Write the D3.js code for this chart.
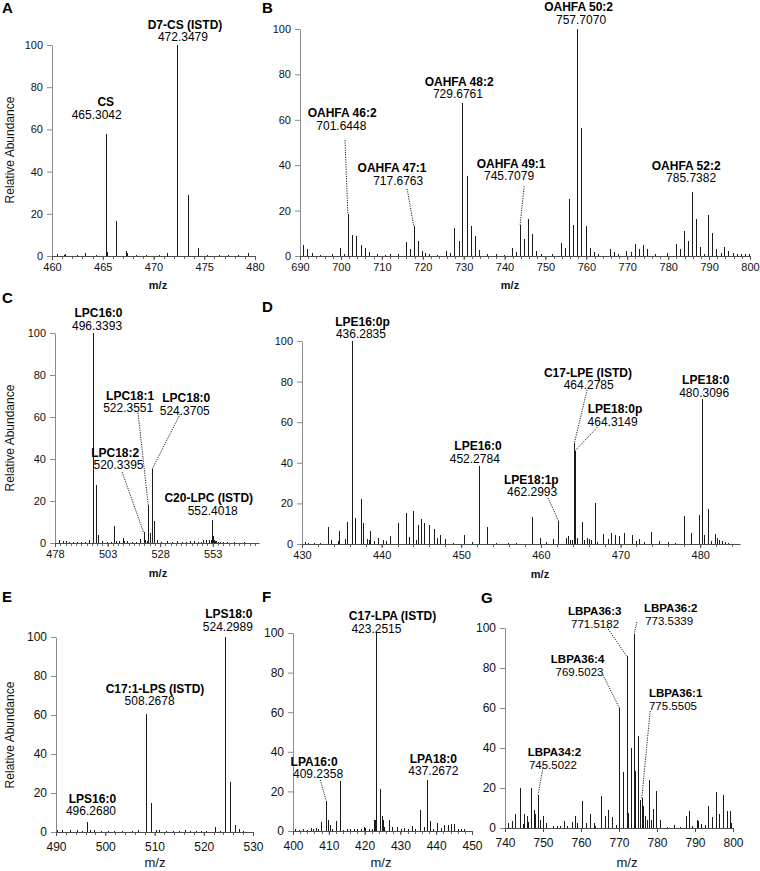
<!DOCTYPE html>
<html><head><meta charset="utf-8">
<script src="https://cdn.jsdelivr.net/npm/d3@7"></script>
<style>
body{margin:0;background:#fff}
svg{display:block;font-family:Arial,"Liberation Sans",sans-serif}
</style>
</head><body>
<svg id="chart" width="760" height="871"></svg>
<script>
// ---------------- DATA ----------------
const yTicks = [0, 20, 40, 60, 80, 100];
const ticksA = [460, 465, 470, 475, 480];
const ticksB = [690, 700, 710, 720, 730, 740, 750, 760, 770, 780, 790, 800];
const ticksC = [478, 503, 528, 553];
const ticksD = [430, 440, 450, 460, 470, 480];
const ticksE = [490, 500, 510, 520, 530];
const ticksF = [400, 410, 420, 430, 440, 450];
const ticksG = [740, 750, 760, 770, 780, 790, 800];

// [m/z, relative abundance]
const peaksA = [[460.5,0.8],[461.2,0.6],[461.3,1],[462.5,0.4],[463.3,1.5],[464.3,0.4],[465.3,58],[465.45,2],[466.3,16.5],[467.3,2.5],[467.4,1.2],[468.3,0.5],[469.3,0.4],[470.5,0.4],[471.3,1.2],[472.35,100],[473.35,29],[474.35,4],[475.3,0.7],[476.5,0.5],[477.3,0.6],[478.3,0.4],[479.3,1.2]];
const peaksB = [[690.8,5],[691.8,3],[692.9,1.5],[694.8,0.5],[697.7,1],[699.8,3.4],[700.8,1],[701.7,18.4],[702.8,9.3],[703.7,9],[704.8,4.7],[705.8,3.4],[706.9,1.6],[708.7,0.7],[710.8,0.5],[712,0.7],[714,1],[715.8,6],[716.9,3],[717.8,13.2],[718.8,6.8],[719.7,2.4],[720.6,1.2],[721.5,1],[723.5,0.5],[725.7,2.2],[726.7,1.2],[727.7,12.2],[728.8,6.6],[729.7,67.4],[730.7,35.4],[731.8,13.4],[732.8,8.8],[733.8,2.6],[735.8,1],[737.8,0.7],[739.8,0.5],[741.8,3.4],[742.8,1.6],[743.8,13.7],[744.8,7.5],[745.8,16.3],[746.8,9.6],[747.8,2.4],[748.8,0.9],[751.6,0.7],[753.7,5.9],[754.8,3.4],[755.8,25.1],[756.8,13.7],[757.7,100],[758.8,56.3],[759.8,13.4],[760.8,3.4],[761.8,1.6],[762.8,0.9],[765.8,3.1],[766.8,1.6],[767.8,0.9],[769.8,2.4],[770.8,1.6],[771.8,5.1],[772.8,2.9],[773.8,4.9],[774.8,2.9],[776.8,0.9],[779.6,1.2],[781.9,5.1],[782.8,2.9],[783.8,11],[784.8,6.6],[785.7,28.4],[786.8,16.2],[787.8,3.8],[788.8,0.9],[789.8,18.1],[790.7,10],[791.8,2.9],[792.8,1.2],[793.7,4.1],[794.7,2.4],[795.8,1.2],[796.7,0.7],[797.7,0.7],[798.7,0.7],[799.7,0.7]];
const peaksC = [[480.1,1.6],[481.7,1],[483.2,0.8],[484.5,0.5],[486.7,0.5],[488.5,0.4],[490.5,0.4],[492.5,0.5],[494.3,1.3],[496.3,100],[497.3,27.5],[498.3,4],[500.2,1],[502.5,0.5],[504.5,0.5],[506.1,8],[507,0.8],[508.2,0.8],[510.2,2.5],[511,0.8],[512.1,1],[514.5,0.5],[516.5,0.5],[518.2,2],[520.1,5.2],[521,1.6],[521.6,1],[522.3,18.3],[523.2,5],[524.3,35.4],[525.3,10.5],[526.3,1.6],[528.5,0.5],[531.2,1],[533.5,0.5],[535.9,0.8],[538.5,0.4],[540.5,0.4],[542.3,0.8],[543.9,0.8],[546,0.5],[547.5,0.6],[548.6,1.6],[549.9,1.3],[551,1.6],[552.1,1.3],[552.6,11],[553.1,3.2],[553.7,1.6],[554.3,1],[554.7,0.8],[555.5,0.6],[556.6,0.5],[558,0.4],[559.7,0.3],[563,0.3],[567.7,0.3]];
const peaksD = [[430.4,1.1],[430.8,0.7],[431.5,0.5],[432.2,0.5],[433.3,8.2],[433.6,2],[434.5,1.6],[434.6,6.4],[435.4,2.3],[435.6,10.8],[436.3,100],[436.6,12.6],[437.4,22],[437.6,10.2],[438.2,2.3],[438.4,2],[438.6,6.2],[439.1,1.6],[439.6,2.8],[440.2,2],[440.5,1.3],[441.1,3.9],[442.1,10.5],[443.1,15.4],[443.4,3.3],[444.0,16.4],[444.3,2],[444.6,9.5],[445.0,12.5],[445.3,10.5],[446.0,9.2],[446.6,7.2],[447.0,3],[447.3,4.4],[448.0,2.3],[449,0.5],[450.3,4.4],[451.4,1],[452.2,38.6],[453.2,8.2],[454.3,0.7],[455.9,0.7],[456.9,0.7],[458.9,13.1],[459.9,3.1],[460.7,1.1],[461.5,2.3],[462.2,11.5],[463.2,2.8],[463.4,3.9],[463.7,2],[463.9,2],[464.2,49.7],[464.3,46],[464.5,2.8],[465.1,11],[465.4,2],[465.8,2.8],[466.1,2.3],[466.3,2],[466.8,20.2],[467.1,1.1],[467.8,4.9],[468.4,2.3],[468.8,5.6],[469.3,4.4],[469.8,3.9],[470.4,5.2],[471.4,4.4],[471.9,1.6],[472.3,2.3],[472.9,1.1],[473.8,5.9],[474.8,1.5],[475.9,1],[476.9,0.7],[478.0,13.8],[478.8,5.2],[478.9,3.1],[479.9,14.3],[480.2,71.4],[480.5,4.4],[481.0,17.2],[481.4,1.5],[481.8,4.9],[482.1,2.8],[482.4,2],[482.8,1.5],[483.1,1.1],[483.5,0.7]];
const peaksE = [[490.2,1.2],[491.2,0.9],[492.9,1.2],[494.3,0.9],[495.2,0.5],[496.3,5.1],[497,1.2],[497.7,0.9],[499.1,0.5],[500.5,0.4],[501.8,0.5],[503.5,0.4],[505.5,0.5],[506.6,0.9],[508.3,60.5],[509.3,15],[510.3,1.2],[511,0.9],[512.4,0.5],[513.7,0.5],[515,0.4],[516.1,0.9],[517.3,0.4],[518.5,0.5],[519.5,0.4],[520.5,0.5],[522.2,2.6],[523.3,0.5],[524.3,100],[525.3,25.7],[526.3,3.4],[527.2,1.7],[528,0.5]];
const peaksF = [[400.6,1.2],[401.8,0.7],[402.9,1],[404,0.5],[405,1.7],[405.7,1.2],[406.4,1.5],[407.1,1.2],[407.9,4.7],[409.3,15.2],[409.9,5.7],[410.2,2.9],[410.8,1.2],[412.1,5.1],[413,25.5],[413.9,0.7],[415,1.2],[416,1.2],[417.1,1.2],[418,1],[419,1.2],[419.7,2],[420.2,1.7],[421.1,1],[422,1.2],[422.7,5.4],[423,5.7],[423.3,100],[424.2,21],[424.8,7.4],[425.1,5.4],[425.5,2],[426.7,5.4],[427.7,2],[429.1,2],[430.2,0.8],[431.1,1.7],[432.2,0.8],[433.3,2.4],[434.2,1.2],[435.4,10.5],[436.5,2],[437.3,26],[438.4,5.1],[439.2,1.2],[440.3,4.1],[441.4,1.7],[442.3,2.9],[443.3,2.9],[444.2,3.4],[445.1,3.7],[446.1,1.2],[447,1],[447.9,1]];
const peaksG = [[740.9,2.5],[741.8,3.3],[742.6,7.2],[743.9,20],[744.8,2.2],[745,7.2],[745.7,6.2],[746,2.8],[746.8,20],[747.6,9.2],[748,7.2],[748.7,16.7],[749.2,4.2],[749.9,6.2],[750.7,2.5],[752.7,1.2],[753.6,1.2],[754.5,1.2],[755.5,3.7],[756.4,1.2],[757.5,2.8],[758.4,5.8],[758.9,2.5],[760.3,13.3],[761.3,2.5],[762.4,7.2],[763.4,2.5],[763.8,0.8],[765.3,16.2],[766.3,6.2],[767.2,9.2],[768.1,5.3],[769.1,1.7],[770.1,60],[771.1,27.8],[772,86],[772.4,7.5],[773.1,40],[774,97],[774.3,28.3],[775,45.8],[775.4,14.2],[776,15],[776.4,10.8],[776.9,5.8],[777.3,4.2],[777.8,23.8],[778.3,4.2],[778.9,9.5],[779.7,18.3],[780.8,3.8],[782.5,0.5],[784.6,1.7],[786,0.5],[787.6,6.2],[788.5,8.3],[789.1,0.8],[790.4,4.2],[790.9,3.3],[791.5,2],[792.6,1.7],[793.5,10.8],[794.4,5.5],[795.5,18],[796.4,7.2],[797.3,16.7],[798.3,8.3],[799.2,8.3],[799.6,2.5]];

// annotations: name, mass, name centre (m/z), mass centre (m/z), name baseline (abundance),
// optional leader: start [m/z, abundance] -> end [m/z, abundance]
const annA = [
  {name:"D7-CS (ISTD)", mass:"472.3479", nx:473.1, mx:472.9, ny:107.6},
  {name:"CS", mass:"465.3042", nx:465.3, mx:464.4, ny:71}
];
const annB = [
  {name:"OAHFA 46:2", mass:"701.6448", nx:700.3, mx:700.1, ny:61.2, from:[701.0,51.1], to:[701.7,18.4]},
  {name:"OAHFA 47:1", mass:"717.6763", nx:712.5, mx:714.0, ny:37.0, from:[716.2,29.5], to:[717.8,13.2]},
  {name:"OAHFA 48:2", mass:"729.6761", nx:728.9, mx:728.6, ny:74.9},
  {name:"OAHFA 50:2", mass:"757.7070", nx:758.1, mx:758.7, ny:107.9},
  {name:"OAHFA 49:1", mass:"745.7079", nx:741.6, mx:741.1, ny:38.8, from:[744.8,30.8], to:[743.8,13.7]},
  {name:"OAHFA 52:2", mass:"785.7382", nx:784.4, mx:785.6, ny:37.9}
];
const annC = [
  {name:"LPC16:0", mass:"496.3393", nx:498.7, mx:498.0, ny:107.6},
  {name:"LPC18:1", mass:"522.3551", nx:513.7, mx:512.8, ny:68.1, from:[517.5,61.9], to:[522.3,18.3]},
  {name:"LPC18:0", mass:"524.3705", nx:540.4, mx:539.7, ny:67.1, from:[537.5,61.4], to:[524.3,35.4]},
  {name:"LPC18:2", mass:"520.3395", nx:506.6, mx:508.2, ny:41, from:[509.9,33.8], to:[520.1,5.2]},
  {name:"C20-LPC (ISTD)", mass:"552.4018", nx:551.1, mx:553.0, ny:19.5}
];
const annD = [
  {name:"LPE16:0p", mass:"436.2835", nx:437.6, mx:437.4, ny:107.4},
  {name:"LPE16:0", mass:"452.2784", nx:452.1, mx:451.7, ny:46.3},
  {name:"LPE18:1p", mass:"462.2993", nx:458.8, mx:458.9, ny:29.6, from:[460.9,22.7], to:[462.2,11.5]},
  {name:"C17-LPE (ISTD)", mass:"464.2785", nx:465.9, mx:466.0, ny:82.3, from:[465.8,75.9], to:[464.2,49.7]},
  {name:"LPE18:0p", mass:"464.3149", nx:469.3, mx:469.0, ny:64.5, from:[467.1,57.6], to:[464.3,46]},
  {name:"LPE18:0", mass:"480.3096", nx:480.7, mx:480.5, ny:78.8}
];
const annE = [
  {name:"LPS18:0", mass:"524.2989", nx:525.1, mx:524.9, ny:109.6},
  {name:"C17:1-LPS (ISTD)", mass:"508.2678", nx:510.1, mx:509.0, ny:71.5},
  {name:"LPS16:0", mass:"496.2680", nx:497.4, mx:497.1, ny:14.9}
];
const annF = [
  {name:"C17-LPA (ISTD)", mass:"423.2515", nx:427.8, mx:423.3, ny:106.4},
  {name:"LPA16:0", mass:"409.2358", nx:405.9, mx:407.0, ny:32.9, from:[407.6,25.8], to:[409.3,15.2]},
  {name:"LPA18:0", mass:"437.2672", nx:439.2, mx:439.2, ny:34.4}
];
const annG = [
  {name:"LBPA36:3", mass:"771.5182", nx:763.6, mx:763.7, ny:106.5, from:[766.8,100.5], to:[772,86]},
  {name:"LBPA36:2", mass:"773.5339", nx:783.6, mx:783.2, ny:108, from:[774.7,103], to:[774,97]},
  {name:"LBPA36:4", mass:"769.5023", nx:759.1, mx:759.6, ny:82.5, from:[765.8,76.5], to:[770.1,60]},
  {name:"LBPA36:1", mass:"775.5505", nx:784.9, mx:784.2, ny:65.5, from:[778.2,58.5], to:[776,15]},
  {name:"LBPA34:2", mass:"745.5022", nx:753.0, mx:752.6, ny:36, from:[750,30], to:[748.7,16.7]}
];

// ---------------- LAYOUT ----------------
const panels = [
  {id:"A", peaks:peaksA, ann:annA, ticks:ticksA, dom:[460,480], l:52, r:255, b:256, t:45, minor:1,
   letter:[2,13], ytitle:150, xtitle:[158,289], bold:true, tf:11, lf:12},
  {id:"B", peaks:peaksB, ann:annB, ticks:ticksB, dom:[690,800], l:300, r:750, b:256, t:29, minor:2,
   letter:[262,13], xtitle:[510,289], bold:true, tf:11, lf:12},
  {id:"C", peaks:peaksC, ann:annC, ticks:ticksC, dom:[478,575], l:55, r:259, b:543, t:333, minor:2.5,
   letter:[2,303], ytitle:438, xtitle:[158,577], bold:true, tf:11, lf:12},
  {id:"D", peaks:peaksD, ann:annD, ticks:ticksD, dom:[430,485], l:302, r:740, b:544, t:341, minor:2,
   letter:[262,312], xtitle:[540,578], bold:true, tf:11, lf:12},
  {id:"E", peaks:peaksE, ann:annE, ticks:ticksE, dom:[490,530], l:56, r:253, b:832, t:637, minor:2,
   letter:[2,602], ytitle:735, xtitle:[155,867], bold:false, tf:12, lf:12},
  {id:"F", peaks:peaksF, ann:annF, ticks:ticksF, dom:[400,450], l:293, r:472, b:831, t:633, minor:2,
   letter:[262,602], xtitle:[381,867], bold:false, tf:12, lf:12},
  {id:"G", peaks:peaksG, ann:annG, ticks:ticksG, dom:[740,800], l:505, r:733, b:828, t:628, minor:0,
   letter:[481,603], xtitle:[627,867], bold:false, tf:12, lf:11.5}
];

const svg = d3.select("#chart");

panels.forEach(p => {
  const x = d3.scaleLinear().domain(p.dom).range([p.l, p.r]);
  const y = d3.scaleLinear().domain([0, 100]).range([p.b, p.t]);
  const g = svg.append("g");

  // minor ticks on x axis
  if (p.minor) {
    const minors = d3.range(p.dom[0], p.dom[1] + 1e-6, p.minor);
    g.append("g").selectAll("line").data(minors).join("line")
      .attr("x1", d => Math.round(x(d)) + 0.5).attr("x2", d => Math.round(x(d)) + 0.5)
      .attr("y1", p.b).attr("y2", p.b + 3)
      .attr("stroke", "#6b6b6b").attr("shape-rendering", "crispEdges");
  }

  // y axis
  const ya = g.append("g").attr("transform", `translate(${p.l},0)`)
    .call(d3.axisLeft(y).tickValues(yTicks).tickSize(5).tickSizeOuter(0).tickPadding(4));
  ya.select(".domain").attr("stroke", "#8c8c8c");
  ya.selectAll(".tick line").attr("stroke", "#8c8c8c");
  ya.selectAll(".tick text").attr("font-size", p.tf).attr("fill", "#111").attr("font-family", "Arial, 'Liberation Sans', sans-serif");

  // x axis
  const xa = g.append("g").attr("transform", `translate(0,${p.b})`)
    .call(d3.axisBottom(x).tickValues(p.ticks).tickFormat(d3.format("d")).tickSize(4).tickSizeOuter(0).tickPadding(p.id >= "E" ? 6 : 3));
  xa.select(".domain").attr("stroke", "#4d4d4d");
  xa.selectAll(".tick line").attr("stroke", "#4d4d4d");
  xa.selectAll(".tick text").attr("font-size", p.tf).attr("fill", "#111").attr("font-family", "Arial, 'Liberation Sans', sans-serif");

  // peaks (stick spectrum)
  g.append("g").selectAll("line").data(p.peaks).join("line")
    .attr("x1", d => Math.round(x(d[0])) + 0.5).attr("x2", d => Math.round(x(d[0])) + 0.5)
    .attr("y1", y(0)).attr("y2", d => y(d[1]))
    .attr("stroke", "#1a1a1a").attr("stroke-width", 1).attr("shape-rendering", "crispEdges");

  // leader lines
  g.append("g").selectAll("line").data(p.ann.filter(a => a.from)).join("line")
    .attr("x1", a => x(a.from[0])).attr("y1", a => y(a.from[1]))
    .attr("x2", a => x(a.to[0])).attr("y2", a => y(a.to[1]))
    .attr("stroke", "#222").attr("stroke-width", 1).attr("stroke-dasharray", "1.2,1.2");

  // labels
  const lab = g.append("g").attr("fill", "#000");
  lab.selectAll("text.n").data(p.ann).join("text").attr("class", "n")
    .attr("x", a => x(a.nx)).attr("y", a => y(a.ny))
    .attr("text-anchor", "middle").attr("font-weight", "bold").attr("font-size", p.lf)
    .text(a => a.name);
  lab.selectAll("text.m").data(p.ann).join("text").attr("class", "m")
    .attr("x", a => x(a.mx)).attr("y", a => y(a.ny) + 12.5)
    .attr("text-anchor", "middle").attr("font-size", p.lf)
    .text(a => a.mass);

  // panel letter
  svg.append("text").attr("x", p.letter[0]).attr("y", p.letter[1])
    .attr("font-weight", "bold").attr("font-size", 15).text(p.id);

  // y title
  if (p.ytitle) {
    svg.append("text").attr("transform", `translate(14,${p.ytitle}) rotate(-90)`)
      .attr("text-anchor", "middle").attr("font-size", 12).attr("fill", "#111").text("Relative Abundance");
  }
  // x title
  svg.append("text").attr("x", p.xtitle[0]).attr("y", p.xtitle[1])
    .attr("text-anchor", "middle").attr("font-size", p.bold ? 11 : 13)
    .attr("font-weight", p.bold ? "bold" : "normal").attr("fill", "#111").text("m/z");
});
</script>
</body></html>
